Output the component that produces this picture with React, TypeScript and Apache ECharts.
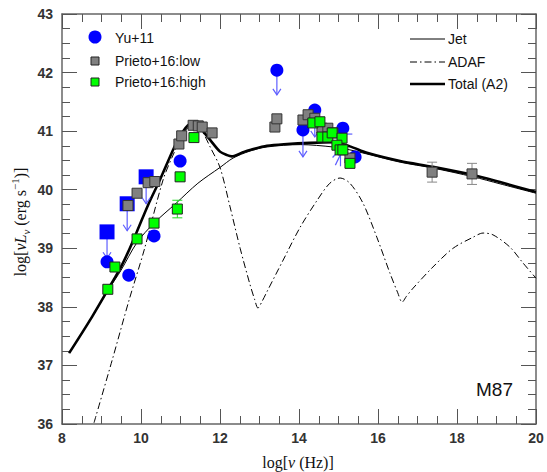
import React, { useEffect, useRef } from "react";
import * as echarts from "echarts";

// ---- Data ----
const yuX = [9.14, 9.69, 10.33, 10.99, 13.44, 14.10, 14.40, 15.11, 15.42];
const yuY = [38.77, 38.54, 39.21, 40.49, 42.04, 41.02, 41.36, 41.05, 40.56];
const yuLimX = [9.14, 9.65, 10.13];
const yuLimY = [39.28, 39.76, 40.22];
const arrowX = [9.14, 9.65, 10.13, 13.44, 14.10, 14.40];
const arrowFrom = [39.28, 39.76, 40.22, 42.04, 41.02, 41.36];
const arrowTo = [38.83, 39.30, 39.76, 41.62, 40.56, 40.90];
const yuSegX1 = [15.05, 15.12, 14.92, 14.85];
const yuSegY1 = [41.00, 40.95, 40.42, 40.55];
const yuSegX2 = [15.05, 15.35, 15.08, 15.00];
const yuSegY2 = [40.40, 40.95, 40.64, 40.66];

const grayX = [9.67, 9.90, 10.18, 10.35, 10.96, 11.03, 11.32, 11.45, 11.55, 11.80, 13.39, 13.44, 14.10, 14.23, 14.40, 14.58, 14.73, 14.86, 15.29, 17.37, 18.38];
const grayY = [39.73, 39.94, 40.12, 40.14, 40.78, 40.92, 41.10, 41.09, 41.07, 40.97, 41.07, 41.21, 41.19, 41.28, 41.22, 41.05, 41.05, 40.97, 40.54, 40.30, 40.27];
const grayErrX = [17.37, 18.38];
const grayErrLo = [40.13, 40.09];
const grayErrHi = [40.47, 40.45];

const greenX = [9.16, 9.34, 9.90, 10.33, 10.92, 10.99, 11.34, 14.35, 14.53, 14.58, 14.73, 14.84, 15.09, 14.96, 15.04, 15.11, 15.29];
const greenY = [38.30, 38.68, 39.16, 39.43, 39.67, 40.22, 40.89, 41.14, 41.16, 40.90, 40.90, 40.97, 40.88, 40.76, 40.68, 40.68, 40.45];
const greenErrX = [10.92];
const greenErrLo = [39.52];
const greenErrHi = [39.82];

const totalX = [8.18, 8.76, 9.22, 9.49, 9.67, 9.90, 10.18, 10.48, 10.86, 11.05, 11.19, 11.32, 11.45, 11.57, 11.75, 12.00, 12.18, 12.30, 12.58, 12.76, 13.19, 13.70, 14.28, 14.86, 15.29, 15.72, 16.56, 17.39, 18.41, 19.09, 20.00];
const totalY = [37.21, 37.83, 38.36, 38.68, 38.93, 39.29, 39.74, 40.17, 40.75, 40.98, 41.10, 41.14, 41.10, 41.00, 40.85, 40.65, 40.59, 40.57, 40.64, 40.68, 40.75, 40.78, 40.80, 40.81, 40.74, 40.63, 40.49, 40.39, 40.25, 40.13, 39.96];

const jetX = [8.18, 8.76, 9.22, 9.49, 9.90, 10.33, 10.89, 11.44, 12.00, 12.33, 12.76, 13.19, 14.03, 14.86, 15.29, 15.72, 16.56, 17.39, 18.41, 19.09, 20.00];
const jetY = [37.21, 37.83, 38.34, 38.62, 39.10, 39.43, 39.77, 40.11, 40.38, 40.54, 40.66, 40.73, 40.77, 40.73, 40.68, 40.61, 40.47, 40.37, 40.22, 40.10, 39.94];

const adafX = [8.81, 9.27, 9.70, 10.08, 10.56, 10.85, 11.05, 11.25, 11.40, 11.57, 11.75, 12.00, 12.25, 12.51, 12.76, 12.88, 12.96, 13.07, 13.19, 13.60, 14.03, 14.46, 14.78, 15.04, 15.29, 15.62, 15.97, 16.30, 16.50, 16.61, 16.72, 16.89, 17.39, 17.90, 18.41, 18.66, 18.91, 19.34, 19.67, 20.00];
const adafY = [36.02, 37.09, 38.12, 38.97, 40.17, 40.65, 40.92, 41.08, 41.08, 40.97, 40.73, 40.38, 39.72, 39.00, 38.38, 38.12, 37.98, 38.10, 38.26, 38.80, 39.36, 39.82, 40.11, 40.20, 40.11, 39.77, 39.19, 38.58, 38.24, 38.08, 38.18, 38.32, 38.68, 39.00, 39.19, 39.26, 39.23, 39.02, 38.75, 38.49];

const xMin = 8, xMax = 20, xStep = 2;
const yMin = 36, yMax = 43, yStep = 1;

const zip = (a: number[], b: number[]) => a.map((v, i) => [v, b[i]]);

const SANS = "Liberation Sans, Arial, Helvetica, sans-serif";
const SERIF = "Liberation Serif, Times New Roman, serif";

function arrowRender(params: any, api: any) {
  const p0 = api.coord([api.value(0), api.value(1)]);
  const p1 = api.coord([api.value(0), api.value(2)]);
  const c = "#5e5eff";
  return {
    type: "group",
    children: [
      { type: "line", shape: { x1: p0[0], y1: p0[1], x2: p1[0], y2: p1[1] }, style: { stroke: c, lineWidth: 1.2 } },
      { type: "polyline", shape: { points: [[p1[0] - 4, p1[1] - 6], [p1[0], p1[1]], [p1[0] + 4, p1[1] - 6]] }, style: { stroke: c, fill: "none", lineWidth: 1.2 } },
    ],
  };
}

function makeErrRender(color: string) {
  return function (params: any, api: any) {
    const lo = api.coord([api.value(0), api.value(1)]);
    const hi = api.coord([api.value(0), api.value(2)]);
    const w = 5;
    return {
      type: "group",
      children: [
        { type: "line", shape: { x1: lo[0], y1: lo[1], x2: hi[0], y2: hi[1] }, style: { stroke: color, lineWidth: 1 } },
        { type: "line", shape: { x1: lo[0] - w, y1: lo[1], x2: lo[0] + w, y2: lo[1] }, style: { stroke: color, lineWidth: 1 } },
        { type: "line", shape: { x1: hi[0] - w, y1: hi[1], x2: hi[0] + w, y2: hi[1] }, style: { stroke: color, lineWidth: 1 } },
      ],
    };
  };
}

function segRender(params: any, api: any) {
  const a = api.coord([api.value(0), api.value(1)]);
  const b = api.coord([api.value(2), api.value(3)]);
  return { type: "line", shape: { x1: a[0], y1: a[1], x2: b[0], y2: b[1] }, style: { stroke: "#5e5eff", lineWidth: 1.2 } };
}

export default function App() {
  const ref = useRef<HTMLDivElement>(null);
  useEffect(() => {
    if (!ref.current) return;
    const chart = echarts.init(ref.current, undefined, { renderer: "svg" });
    const axisCommon = {
      type: "value" as const,
      axisLine: { show: true, onZero: false, lineStyle: { color: "#666", width: 1.5 } },
      axisTick: { show: true, inside: true, length: 15, lineStyle: { color: "#555", width: 1 } },
      minorTick: { show: true, splitNumber: 4, length: 8, lineStyle: { color: "#555", width: 1 } },
      splitLine: { show: false },
    };
    const labelStyle = { fontSize: 14, fontWeight: "bold" as const, color: "#333", fontFamily: SANS };
    const option: any = {
      animation: false,
      backgroundColor: "#fff",
      grid: { left: 62, right: 11, top: 14, bottom: 48 },
      xAxis: [
        { ...axisCommon, min: xMin, max: xMax, interval: xStep, position: "bottom", axisLabel: { ...labelStyle, margin: 7 } },
        { ...axisCommon, min: xMin, max: xMax, interval: xStep, position: "top", axisLabel: { show: false } },
      ],
      yAxis: [
        { ...axisCommon, min: yMin, max: yMax, interval: yStep, position: "left", axisLabel: { ...labelStyle, margin: 9 } },
        { ...axisCommon, min: yMin, max: yMax, interval: yStep, position: "right", axisLabel: { show: false } },
      ],
      series: [
        { type: "line", name: "ADAF", data: zip(adafX, adafY), showSymbol: false, smooth: 0.3, lineStyle: { color: "#000", width: 1, type: [7, 3, 1.5, 3] }, z: 2 },
        { type: "line", name: "Jet", data: zip(jetX, jetY), showSymbol: false, smooth: 0.3, lineStyle: { color: "#000", width: 1 }, z: 2 },
        { type: "line", name: "Total (A2)", data: zip(totalX, totalY), showSymbol: false, smooth: 0.3, lineStyle: { color: "#000", width: 2.6 }, z: 2 },
        { type: "custom", renderItem: arrowRender, data: arrowX.map((x, i) => [x, arrowFrom[i], arrowTo[i]]), z: 3 },
        { type: "custom", renderItem: segRender, data: yuSegX1.map((x, i) => [x, yuSegY1[i], yuSegX2[i], yuSegY2[i]]), z: 3 },
        { type: "scatter", name: "Yu+11", data: zip(yuX, yuY), symbol: "circle", symbolSize: 13, itemStyle: { color: "#0000ff", opacity: 1 }, z: 4 },
        { type: "scatter", name: "Yu+11 lim", data: zip(yuLimX, yuLimY), symbol: "rect", symbolSize: 15, itemStyle: { color: "#0000ff", opacity: 1 }, z: 4 },
        { type: "custom", renderItem: makeErrRender("#888"), data: grayErrX.map((x, i) => [x, grayErrLo[i], grayErrHi[i]]), z: 5 },
        { type: "scatter", name: "Prieto+16:low", data: zip(grayX, grayY), symbol: "rect", symbolSize: 10, itemStyle: { color: "#808080", borderColor: "#333", borderWidth: 1, opacity: 1 }, z: 6 },
        { type: "custom", renderItem: makeErrRender("#22dd22"), data: greenErrX.map((x, i) => [x, greenErrLo[i], greenErrHi[i]]), z: 7 },
        { type: "scatter", name: "Prieto+16:high", data: zip(greenX, greenY), symbol: "rect", symbolSize: 10, itemStyle: { color: "#00ff00", borderColor: "#222", borderWidth: 1, opacity: 1 }, z: 8 },
      ],
      graphic: [
        { type: "circle", shape: { cx: 95, cy: 37, r: 6.5 }, style: { fill: "#0000ff" }, z: 100 },
        { type: "rect", shape: { x: 91, y: 57, width: 8, height: 8 }, style: { fill: "#808080", stroke: "#222", lineWidth: 1 }, z: 100 },
        { type: "rect", shape: { x: 91, y: 78, width: 8, height: 8 }, style: { fill: "#00ff00", stroke: "#222", lineWidth: 1 }, z: 100 },
        { type: "text", x: 115, y: 38, style: { text: "Yu+11", font: `14px ${SANS}`, fill: "#111", verticalAlign: "middle" }, z: 100 },
        { type: "text", x: 115, y: 61, style: { text: "Prieto+16:low", font: `14px ${SANS}`, fill: "#111", verticalAlign: "middle" }, z: 100 },
        { type: "text", x: 115, y: 82, style: { text: "Prieto+16:high", font: `14px ${SANS}`, fill: "#111", verticalAlign: "middle" }, z: 100 },
        { type: "line", shape: { x1: 410, y1: 39, x2: 445, y2: 39 }, style: { stroke: "#000", lineWidth: 1 }, z: 100 },
        { type: "line", shape: { x1: 410, y1: 62, x2: 445, y2: 62 }, style: { stroke: "#000", lineWidth: 1, lineDash: [7, 3, 1.5, 3] }, z: 100 },
        { type: "line", shape: { x1: 410, y1: 84, x2: 445, y2: 84 }, style: { stroke: "#000", lineWidth: 2.6 }, z: 100 },
        { type: "text", x: 448, y: 39, style: { text: "Jet", font: `14px ${SANS}`, fill: "#111", verticalAlign: "middle" }, z: 100 },
        { type: "text", x: 448, y: 62, style: { text: "ADAF", font: `14px ${SANS}`, fill: "#111", verticalAlign: "middle" }, z: 100 },
        { type: "text", x: 448, y: 84, style: { text: "Total (A2)", font: `14px ${SANS}`, fill: "#111", verticalAlign: "middle" }, z: 100 },
        { type: "text", x: 476, y: 389, style: { text: "M87", font: `19px ${SANS}`, fill: "#111", verticalAlign: "middle" }, z: 100 },
        {
          type: "text", x: 298, y: 462,
          style: {
            text: "{n|log[}{i|ν}{n| (Hz)]}", align: "center", verticalAlign: "middle",
            rich: { n: { fontFamily: SERIF, fontSize: 16, fill: "#111" }, i: { fontFamily: SERIF, fontSize: 16, fontStyle: "italic", fill: "#111" } },
          }, z: 100,
        },
        {
          type: "text", x: 20, y: 222, rotation: Math.PI / 2,
          style: {
            text: "{n|log[}{i|νL}{sub|ν}{n| (erg s}{sup|−1}{n|)]}", align: "center", verticalAlign: "middle",
            rich: {
              n: { fontFamily: SERIF, fontSize: 16, lineHeight: 22, fill: "#111" },
              i: { fontFamily: SERIF, fontSize: 16, lineHeight: 22, fontStyle: "italic", fill: "#111" },
              sub: { fontFamily: SERIF, fontSize: 11, lineHeight: 12, fontStyle: "italic", verticalAlign: "bottom", fill: "#111" },
              sup: { fontFamily: SERIF, fontSize: 11, lineHeight: 12, verticalAlign: "top", fill: "#111" },
            },
          }, z: 100,
        },
      ],
    };
    chart.setOption(option);
    return () => chart.dispose();
  }, []);
  return <div ref={ref} style={{ position: "fixed", left: 0, top: 0, width: 547, height: 472 }} />;
}
